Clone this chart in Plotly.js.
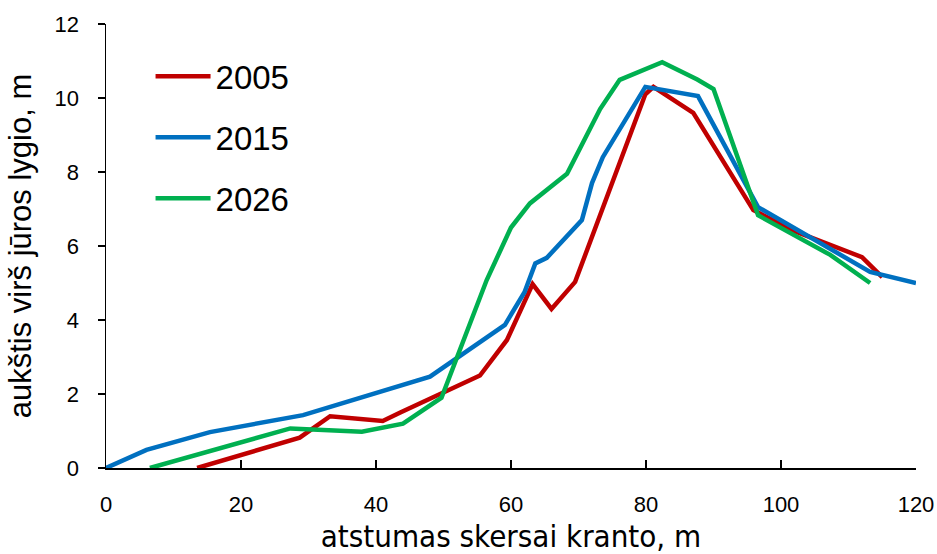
<!DOCTYPE html>
<html>
<head>
<meta charset="utf-8">
<script src="https://cdn.plot.ly/plotly-3.0.1.min.js"></script>
<style>html,body{margin:0;padding:0;background:#fff;}#chart{width:937px;height:554px;}</style>
</head>
<body>
<div id="chart"></div>
<script>
const x2005 = [13.5, 28.7, 33.2, 41.0, 43.6, 55.4, 59.4, 63.2, 66.0, 69.5, 79.9, 81.1, 87.0, 95.9, 102.0, 112.0, 115.0];
const y2005 = [0, 0.82, 1.4, 1.27, 1.5, 2.5, 3.46, 4.97, 4.3, 5.03, 10.1, 10.3, 9.6, 6.97, 6.4, 5.7, 5.16];

const x2015 = [0, 6.0, 15.4, 29.2, 48.0, 59.1, 62.0, 63.6, 65.3, 70.5, 72.0, 73.6, 79.9, 87.7, 96.6, 113.2, 120.0];
const y2015 = [0, 0.49, 0.97, 1.43, 2.47, 3.87, 4.75, 5.53, 5.68, 6.7, 7.7, 8.4, 10.3, 10.05, 7.05, 5.3, 5.0];

const x2026 = [6.5, 27.3, 37.9, 44.0, 49.7, 56.4, 60.0, 62.8, 68.3, 73.2, 76.1, 82.4, 87.6, 90.0, 96.6, 107.3, 113.2];
const y2026 = [0, 1.07, 0.98, 1.2, 1.9, 5.08, 6.5, 7.15, 7.95, 9.7, 10.49, 10.97, 10.5, 10.24, 6.83, 5.76, 5.0];

const seriesNames = ['2005', '2015', '2026'];
const seriesColors = ['#C00000', '#0070C0', '#00B050'];

const xTicks = [0, 20, 40, 60, 80, 100, 120];
const yTicks = [0, 2, 4, 6, 8, 10, 12];

const xs = [x2005, x2015, x2026];
const ys = [y2005, y2015, y2026];

const traces = seriesNames.map((n, i) => ({
  x: xs[i], y: ys[i], name: n, type: 'scatter', mode: 'lines',
  legendgroup: n,
  line: {color: seriesColors[i], width: 4.5}
}));

const tickFont = {family: 'Liberation Sans, Arial, sans-serif', size: 22, color: '#000'};

const layout = {
  width: 937, height: 554,
  margin: {l: 106, r: 21, t: 24, b: 86},
  paper_bgcolor: '#fff', plot_bgcolor: '#fff',
  showlegend: true,
  legend: {
    x: 0.055, y: 0.945, xanchor: 'left', yanchor: 'top',
    font: {family: 'Liberation Sans, Arial, sans-serif', size: 33, color: '#000'},
    bgcolor: 'rgba(0,0,0,0)', tracegroupgap: 15, itemwidth: 55
  },
  xaxis: {
    range: [0, 120], tickvals: xTicks, ticktext: xTicks.map(String),
    showgrid: false, zeroline: false, showline: true, linecolor: '#000', linewidth: 1.5,
    ticks: 'inside', ticklen: 8, tickcolor: '#000', tickwidth: 1.5,
    tickfont: tickFont, ticklabelstandoff: 16,
    title: {text: 'atstumas skersai kranto, m', font: {family: 'DejaVu Sans Condensed, Liberation Sans Narrow, sans-serif', size: 31, color: '#000'}, standoff: 10}
  },
  yaxis: {
    range: [0, 12], tickvals: yTicks, ticktext: yTicks.map(String),
    showgrid: false, zeroline: false, showline: true, linecolor: '#000', linewidth: 1.5,
    ticks: 'outside', ticklen: 7, tickcolor: '#000', tickwidth: 1.5,
    tickfont: tickFont, ticklabelstandoff: 14,
    title: {text: 'aukštis virš jūros lygio, m', font: {family: 'Liberation Sans, Arial, sans-serif', size: 31, color: '#000'}, standoff: 14}
  }
};

Plotly.newPlot('chart', traces, layout, {displayModeBar: false, staticPlot: true});
</script>
</body>
</html>
